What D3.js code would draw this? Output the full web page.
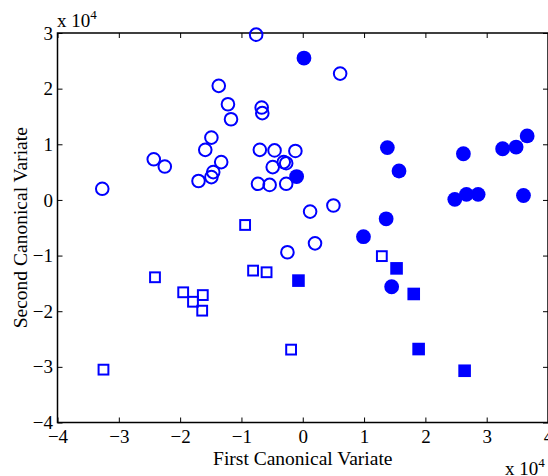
<!DOCTYPE html>
<html>
<head>
<meta charset="utf-8">
<script src="https://cdn.jsdelivr.net/npm/d3@7"></script>
<style>
  body { margin: 0; background: #fff; }
  svg text { font-family: 'Liberation Serif', 'Times New Roman', serif; }
</style>
</head>
<body>
<svg id="chart" width="548" height="476"></svg>
<script>
// Values in units of 10^4
const openCircles = [
  [-0.76, 2.97], [-1.37, 2.05], [-1.22, 1.72], [-1.17, 1.45], [-0.67, 1.66],
  [-0.66, 1.56], [-1.49, 1.12], [-1.59, 0.90], [-1.33, 0.68], [-2.43, 0.73],
  [-2.25, 0.60], [-3.27, 0.20], [-1.70, 0.34], [-1.49, 0.41], [-1.46, 0.50],
  [-0.70, 0.90], [-0.46, 0.89], [-0.12, 0.88], [-0.49, 0.59], [-0.31, 0.68],
  [-0.27, 0.66], [-0.73, 0.29], [-0.54, 0.27], [-0.27, 0.29], [0.61, 2.27],
  [0.12, -0.21], [0.50, -0.10], [0.20, -0.78], [-0.25, -0.94]
];
const filledCircles = [
  [0.02, 2.55], [-0.10, 0.42], [1.38, 0.94], [1.57, 0.52], [2.62, 0.83],
  [3.26, 0.92], [3.48, 0.95], [3.66, 1.15], [2.48, 0.01], [2.67, 0.10],
  [2.86, 0.10], [3.60, 0.08], [1.36, -0.34], [0.99, -0.66], [1.45, -1.56]
];
const openSquares = [
  [-0.94, -0.45], [-2.41, -1.39], [-1.95, -1.66], [-1.79, -1.83], [-1.63, -1.71],
  [-1.64, -1.99], [-0.81, -1.27], [-0.59, -1.30], [-3.25, -3.05], [-0.19, -2.69],
  [1.29, -1.01]
];
const filledSquares = [
  [-0.07, -1.45], [1.53, -1.23], [1.81, -1.69], [1.89, -2.68], [2.64, -3.07]
];
const xTicks = [-4, -3, -2, -1, 0, 1, 2, 3, 4];
const yTicks = [-4, -3, -2, -1, 0, 1, 2, 3];
const xLabel = "First Canonical Variate";
const yLabel = "Second Canonical Variate";
const exponentBase = "x 10";
const exponent = "4";

const blue = "#0000ff";
const margin = { left: 57.5, top: 33 };
const plotW = 490.5, plotH = 389.5;
const fontFamily = "'Liberation Serif', 'Times New Roman', serif";
const fontSize = 19;
const labelSize = 19.5;

const svg = d3.select("#chart");
const g = svg.append("g").attr("transform", `translate(${margin.left},${margin.top})`);

const x = d3.scaleLinear().domain([-4, 4]).range([0, plotW]);
const y = d3.scaleLinear().domain([-4, 3]).range([plotH, 0]);
const fmt = d3.format("d");

// Axes
const axB = g.append("g").attr("transform", `translate(0,${plotH})`)
  .call(d3.axisBottom(x).tickValues(xTicks).tickFormat(fmt).tickSize(-5).tickSizeOuter(0).tickPadding(7));
const axT = g.append("g")
  .call(d3.axisTop(x).tickValues(xTicks).tickSize(-5).tickSizeOuter(0).tickFormat(""));
const axL = g.append("g")
  .call(d3.axisLeft(y).tickValues(yTicks).tickFormat(fmt).tickSize(-5).tickSizeOuter(0).tickPadding(4.5));
const axR = g.append("g").attr("transform", `translate(${plotW},0)`)
  .call(d3.axisRight(y).tickValues(yTicks).tickSize(-5).tickSizeOuter(0).tickFormat(""));

[axB, axT, axL, axR].forEach(a => {
  a.attr("font-family", fontFamily).attr("font-size", fontSize);
  a.select(".domain").remove();
  a.selectAll("line").attr("stroke", "#000").attr("stroke-width", 1);
  a.selectAll("text").attr("fill", "#000");
});

// Box
g.append("rect").attr("x", 0).attr("y", 0).attr("width", plotW).attr("height", plotH)
  .attr("fill", "none").attr("stroke", "#000").attr("stroke-width", 1.5);

// Markers
g.selectAll(".oc").data(openCircles).enter().append("circle")
  .attr("cx", d => x(d[0])).attr("cy", d => y(d[1])).attr("r", 6.3)
  .attr("fill", "none").attr("stroke", blue).attr("stroke-width", 2);

g.selectAll(".fc").data(filledCircles).enter().append("circle")
  .attr("cx", d => x(d[0])).attr("cy", d => y(d[1])).attr("r", 7.4)
  .attr("fill", blue).attr("stroke", "none");

const os = 9.8;
g.selectAll(".os").data(openSquares).enter().append("rect")
  .attr("x", d => x(d[0]) - os / 2).attr("y", d => y(d[1]) - os / 2)
  .attr("width", os).attr("height", os)
  .attr("fill", "none").attr("stroke", blue).attr("stroke-width", 2);

const fs = 12.6;
g.selectAll(".fs").data(filledSquares).enter().append("rect")
  .attr("x", d => x(d[0]) - fs / 2).attr("y", d => y(d[1]) - fs / 2)
  .attr("width", fs).attr("height", fs)
  .attr("fill", blue);

// Axis labels
svg.append("text").attr("x", margin.left + x(0)).attr("y", 465)
  .attr("text-anchor", "middle").attr("font-family", fontFamily).attr("font-size", labelSize).text(xLabel);
svg.append("text").attr("transform", `translate(27,${margin.top + plotH / 2}) rotate(-90)`)
  .attr("text-anchor", "middle").attr("font-family", fontFamily).attr("font-size", labelSize).text(yLabel);

// Exponent labels
function expLabel(px, py) {
  const t = svg.append("text").attr("x", px).attr("y", py)
    .attr("font-family", fontFamily).attr("font-size", fontSize);
  t.append("tspan").text(exponentBase);
  t.append("tspan").attr("dy", -8).attr("font-size", 13).text(exponent);
}
expLabel(57, 27);
expLabel(505, 475);
</script>
</body>
</html>
